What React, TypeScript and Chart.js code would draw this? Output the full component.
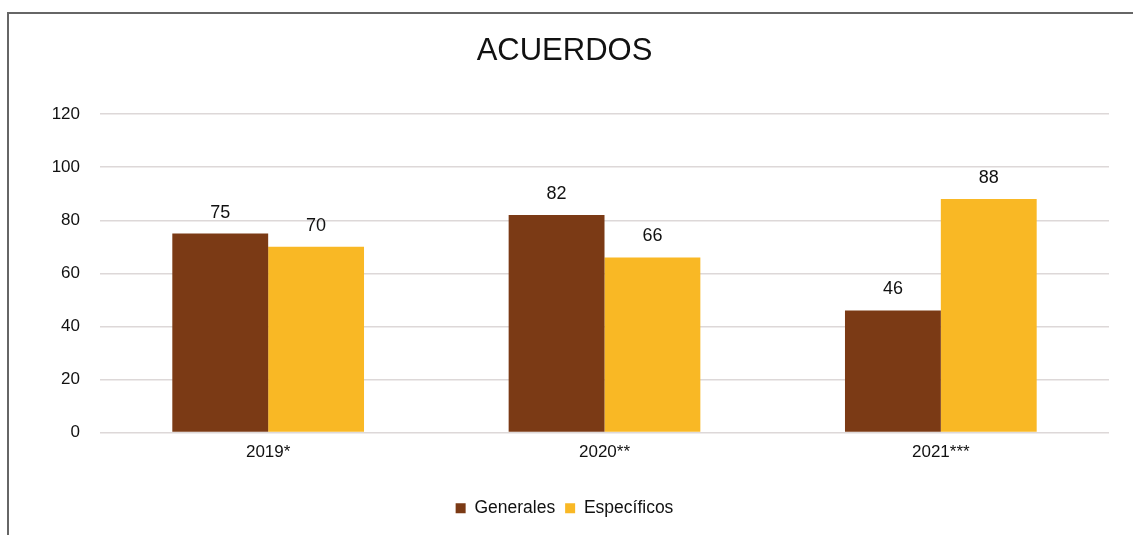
import React, { useEffect, useRef } from "react";
import { Chart, registerables } from "chart.js";

Chart.register(...registerables);

const categories = ["2019*", "2020**", "2021***"];
const generales = [75, 82, 46];
const especificos = [70, 66, 88];
const yTicks = [0, 20, 40, 60, 80, 100, 120];

const FONT = "'Liberation Sans', Arial, sans-serif";

const valueLabels = {
  id: "valueLabels",
  afterDatasetsDraw(chart: any) {
    const ctx = chart.ctx;
    ctx.save();
    ctx.font = `18px ${FONT}`;
    ctx.fillStyle = "#111";
    ctx.textAlign = "center";
    ctx.textBaseline = "bottom";
    chart.data.datasets.forEach((ds: any, i: number) => {
      const meta = chart.getDatasetMeta(i);
      meta.data.forEach((bar: any, j: number) => {
        ctx.fillText(String(ds.data[j]), bar.x, bar.y - 12);
      });
    });
    ctx.restore();
  },
};

export default function App() {
  const ref = useRef<HTMLCanvasElement>(null);
  useEffect(() => {
    document.body.style.margin = "0";
    const chart = new Chart(ref.current!, {
      type: "bar",
      data: {
        labels: categories,
        datasets: [
          { label: "Generales", data: generales, backgroundColor: "#7B3A15" },
          { label: "Específicos", data: especificos, backgroundColor: "#F9B825" },
        ],
      },
      options: {
        animation: false,
        responsive: false,
        layout: { padding: { left: 20, right: 24, top: 0, bottom: 8 } },
        datasets: { bar: { categoryPercentage: 0.57, barPercentage: 1 } },
        plugins: {
          title: {
            display: true,
            text: "ACUERDOS",
            color: "#111",
            font: { family: FONT, size: 31, weight: "normal" },
            padding: { top: 33, bottom: 44 },
          },
          legend: {
            position: "bottom",
            labels: {
              color: "#111",
              font: { family: FONT, size: 17.5 },
              boxWidth: 10,
              boxHeight: 10,
              padding: 10,
            },
          },
          tooltip: { enabled: false },
        },
        scales: {
          x: {
            grid: { display: false, drawTicks: false },
            border: { display: false },
            ticks: { color: "#111", font: { family: FONT, size: 17 }, padding: 10 },
            afterFit: (s: any) => {
              s.height = 57;
            },
          },
          y: {
            min: 0,
            max: 120,
            afterBuildTicks: (s: any) => {
              s.ticks = yTicks.map((v) => ({ value: v }));
            },
            afterFit: (s: any) => {
              s.width = 80;
            },
            grid: { color: "#ddd8d8", lineWidth: 1.5, drawTicks: false },
            border: { display: false },
            ticks: { color: "#111", font: { family: FONT, size: 17 }, padding: 20 },
          },
        },
      },
      plugins: [valueLabels],
    });
    return () => chart.destroy();
  }, []);
  return (
    <div style={{ position: "relative", width: 1133, height: 535, background: "#fff" }}>
      <div
        style={{
          position: "absolute",
          left: 7,
          top: 12,
          width: 1126,
          height: 523,
          borderLeft: "2px solid #666",
          borderTop: "2px solid #666",
          boxSizing: "border-box",
        }}
      />
      <canvas ref={ref} width={1133} height={535} style={{ position: "absolute", left: 0, top: 0 }} />
    </div>
  );
}
